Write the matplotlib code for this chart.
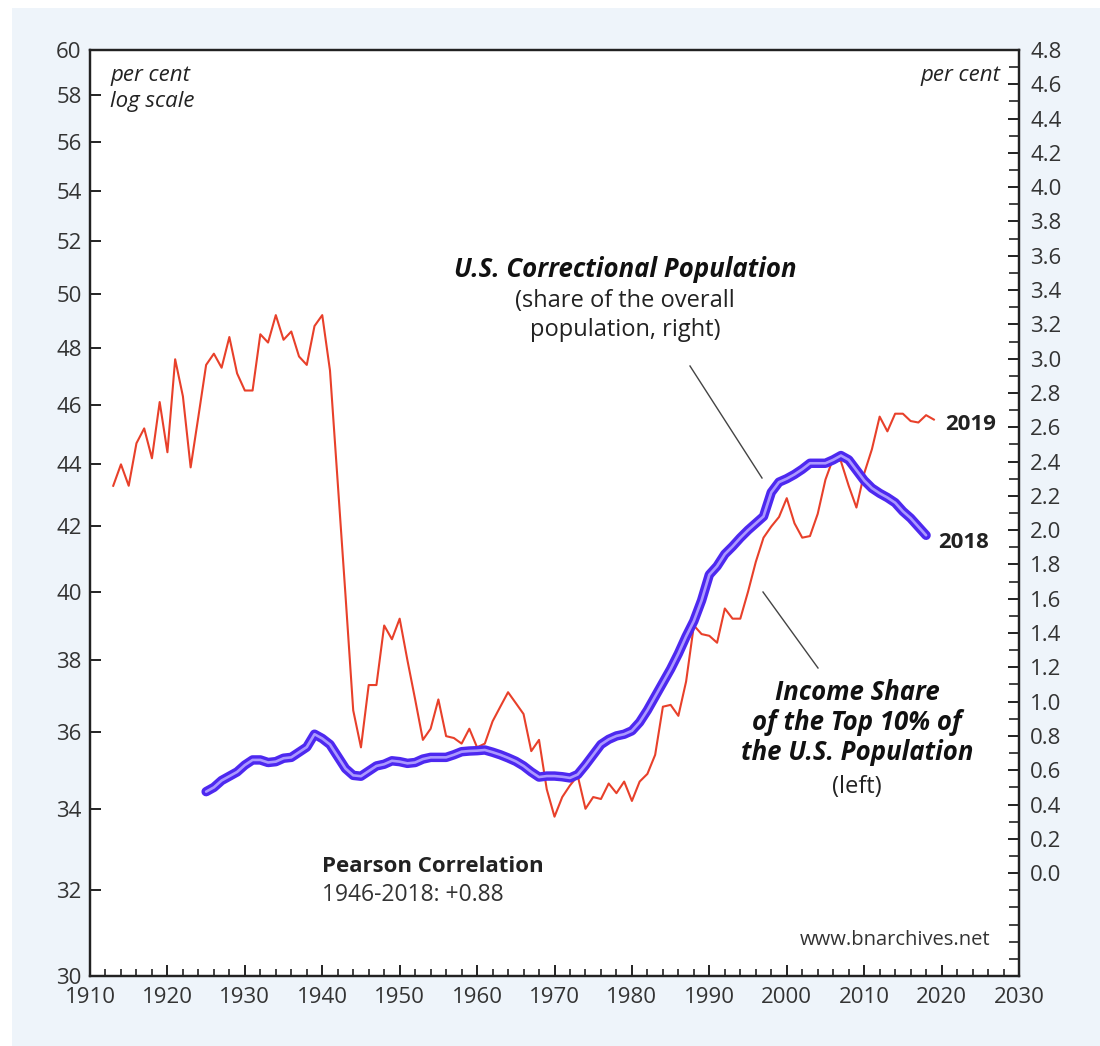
import numpy as np
import matplotlib
matplotlib.use("Agg")
import matplotlib.pyplot as plt
from matplotlib.ticker import FixedLocator, FixedFormatter, NullLocator, MultipleLocator
from matplotlib.patches import Rectangle

plt.rcParams['font.family'] = ['Open Sans', 'DejaVu Sans']

# ---- data ----
income_years = list(range(1913, 2020))
income_share = [
    43.3, 44.0, 43.3, 44.7, 45.2, 44.2, 46.1, 44.4, 47.6, 46.3,   # 1913-1922
    43.9, 45.6, 47.4, 47.8, 47.3, 48.4, 47.1, 46.5, 46.5, 48.5,   # 1923-1932
    48.2, 49.2, 48.3, 48.6, 47.7, 47.4, 48.8, 49.2, 47.2, 43.4,   # 1933-1942
    39.9, 36.6, 35.6, 37.3, 37.3, 39.0, 38.6, 39.2, 38.0, 36.9,   # 1943-1952
    35.8, 36.1, 36.9, 35.9, 35.85, 35.7, 36.1, 35.6, 35.7, 36.3,  # 1953-1962
    36.7, 37.1, 36.8, 36.5, 35.5, 35.8, 34.5, 33.8, 34.3, 34.6,   # 1963-1972
    34.85, 34.0, 34.3, 34.25, 34.65, 34.4, 34.7, 34.2, 34.7, 34.9, # 1973-1982
    35.4, 36.7, 36.75, 36.45, 37.4, 39.0, 38.75, 38.7, 38.5, 39.5,  # 1983-1992
    39.2, 39.2, 40.0, 40.9, 41.65, 42.0, 42.3, 42.9, 42.1, 41.65,   # 1993-2002
    41.7, 42.4, 43.5, 44.2, 44.1, 43.3, 42.6, 43.7, 44.5, 45.6,     # 2003-2012
    45.1, 45.7, 45.7, 45.45, 45.4, 45.65, 45.5                      # 2013-2019
]

prison_years = list(range(1925, 2019))
prison_share = [
    0.475, 0.50, 0.54, 0.565, 0.59, 0.63, 0.66, 0.66, 0.645, 0.65,   # 1925-1934
    0.67, 0.675, 0.705, 0.735, 0.81, 0.785, 0.75, 0.68, 0.61, 0.57,  # 1935-1944
    0.565, 0.595, 0.625, 0.635, 0.655, 0.65, 0.64, 0.645, 0.665, 0.675, # 1945-1954
    0.675, 0.675, 0.69, 0.708, 0.712, 0.714, 0.718, 0.705, 0.69, 0.672, # 1955-1964
    0.652, 0.625, 0.59, 0.56, 0.566, 0.566, 0.562, 0.555, 0.575, 0.63,  # 1965-1974
    0.69, 0.75, 0.78, 0.80, 0.81, 0.83, 0.88, 0.95, 1.03, 1.11,         # 1975-1984
    1.19, 1.28, 1.38, 1.47, 1.59, 1.74, 1.79, 1.86, 1.905, 1.955,       # 1985-1994
    2.00, 2.04, 2.08, 2.22, 2.28, 2.30, 2.325, 2.355, 2.39, 2.39,       # 1995-2004
    2.39, 2.41, 2.435, 2.41, 2.35, 2.29, 2.245, 2.215, 2.19, 2.16,      # 2005-2014
    2.11, 2.07, 2.02, 1.97                                              # 2015-2018
]

left_ticks = list(range(30, 61, 2))
right_ticks = [round(0.2 * i, 1) for i in range(0, 25)]
x_ticks = list(range(1910, 2031, 10))

# ---- figure ----
W, H = 1100, 1046
fig = plt.figure(figsize=(W / 100, H / 100), dpi=100)
fig.patch.set_facecolor('#eef4fa')
fig.patches.append(Rectangle((0, 0), 12 / W, 1, transform=fig.transFigure,
                             facecolor='white', edgecolor='none', zorder=-10))
fig.patches.append(Rectangle((0, 1 - 8 / H), 1, 8 / H, transform=fig.transFigure,
                             facecolor='white', edgecolor='none', zorder=-10))

ax = fig.add_axes([90 / W, 1 - 976 / H, (1019 - 90) / W, (976 - 50) / H])
ax.set_facecolor('white')
ax2 = ax.twinx()

ax.set_yscale('log')
ax.set_ylim(30, 60)
ax.set_xlim(1910, 2030)
ax.yaxis.set_major_locator(FixedLocator(left_ticks))
ax.yaxis.set_major_formatter(FixedFormatter([str(t) for t in left_ticks]))
ax.yaxis.set_minor_locator(NullLocator())
ax.xaxis.set_major_locator(FixedLocator(x_ticks))
ax.xaxis.set_minor_locator(MultipleLocator(2))

ax2.set_ylim(-0.6, 4.8)
ax2.yaxis.set_major_locator(FixedLocator(right_ticks))
ax2.yaxis.set_major_formatter(FixedFormatter([f"{t:.1f}" for t in right_ticks]))
ax2.yaxis.set_minor_locator(MultipleLocator(0.1))

tick_color = '#333333'
for a in (ax, ax2):
    for s in a.spines.values():
        s.set_linewidth(1.6)
        s.set_color('#222222')
ax.tick_params(axis='both', which='major', direction='in', length=8, width=1.4,
               labelsize=16, labelcolor=tick_color, color='#222222', pad=6)
ax.tick_params(axis='x', which='minor', direction='in', length=5, width=1.2, color='#222222')
ax.tick_params(axis='x', which='major', pad=8)
ax2.tick_params(axis='y', which='major', direction='in', length=8, width=1.4,
                labelsize=16, labelcolor=tick_color, color='#222222', pad=8)
ax2.tick_params(axis='y', which='minor', direction='in', length=7, width=1.2, color='#222222')

# ---- series ----
ax.plot(income_years, income_share, color='#e8402a', lw=1.5, zorder=3)
ax2.plot(prison_years, prison_share, color='#4d28f0', lw=6.8, solid_capstyle='round',
         solid_joinstyle='round', zorder=4)
ax2.plot(prison_years, prison_share, color='#ab98ff', lw=1.9, solid_capstyle='round',
         solid_joinstyle='round', zorder=5)

# ---- annotations ----
def fx(px):
    return px / W

def fy(py):
    return 1 - py / H

txt = '#222222'
fig.text(fx(110), fy(75), 'per cent', fontsize=16, style='italic', color=txt, va='center')
fig.text(fx(110), fy(101), 'log scale', fontsize=16, style='italic', color=txt, va='center')
fig.text(fx(1000), fy(75), 'per cent', fontsize=16, style='italic', color=txt, va='center', ha='right')

fig.text(fx(625), fy(270), 'U.S. Correctional Population', fontsize=18.5, style='italic',
         weight='bold', color='#111111', ha='center', va='center')
fig.text(fx(625), fy(301), '(share of the overall', fontsize=17, color=txt, ha='center', va='center')
fig.text(fx(625), fy(330), 'population, right)', fontsize=17, color=txt, ha='center', va='center')
fig.add_artist(plt.Line2D([fx(690), fx(762)], [fy(366), fy(478)], color='#444444', lw=1.0))

for i, line in enumerate(['Income Share', 'of the Top 10% of', 'the U.S. Population']):
    fig.text(fx(857), fy(693 + 29.5 * i), line, fontsize=18.5, style='italic', weight='bold',
             color='#111111', ha='center', va='center')
fig.text(fx(857), fy(787), '(left)', fontsize=17, color=txt, ha='center', va='center')
fig.add_artist(plt.Line2D([fx(763), fx(818)], [fy(592), fy(668)], color='#444444', lw=1.0))

fig.text(fx(945), fy(425), '2019', fontsize=16, weight='bold', color='#222222', va='center')
fig.text(fx(938), fy(543), '2018', fontsize=16, weight='bold', color='#222222', va='center')

fig.text(fx(322), fy(866), 'Pearson Correlation', fontsize=16, weight='bold', color='#222222', va='center')
fig.text(fx(322), fy(895), '1946-2018: +0.88', fontsize=16.5, color='#333333', va='center')
fig.text(fx(990), fy(940), 'www.bnarchives.net', fontsize=14.5, color='#333333', va='center', ha='right')

fig.savefig('out.png', dpi=100, facecolor=fig.get_facecolor())
